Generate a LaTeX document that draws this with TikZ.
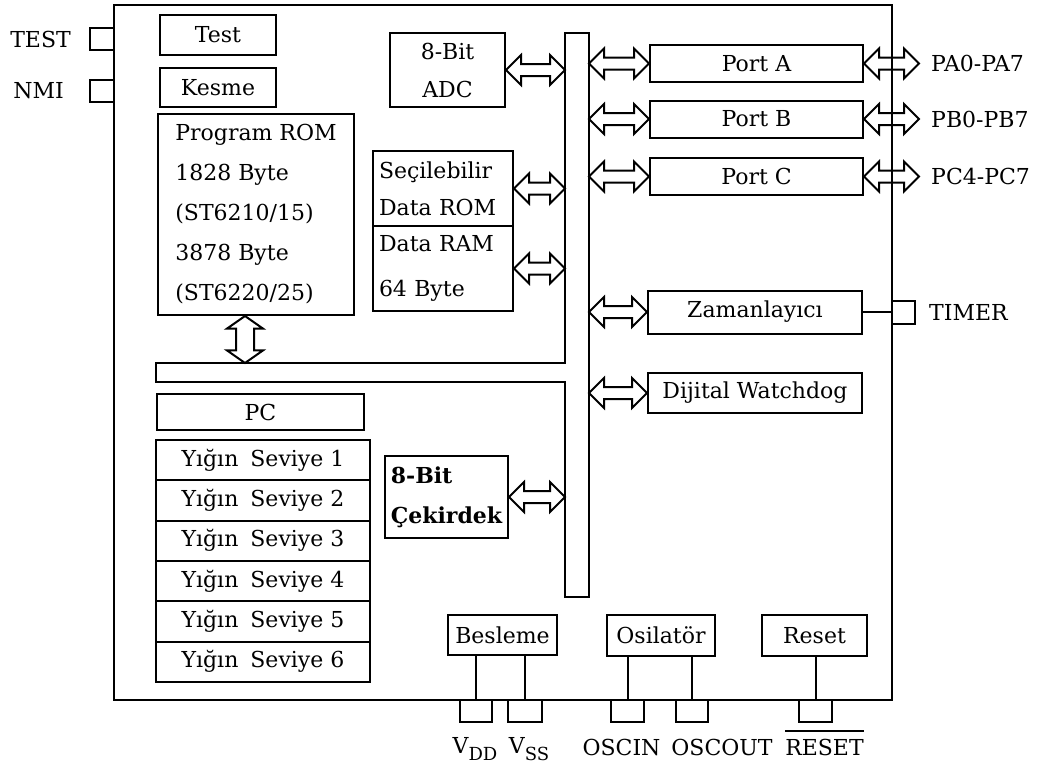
\documentclass[tikz,border=0pt]{standalone}
\usepackage{fontspec}
\setmainfont{DejaVu Serif}
\usetikzlibrary{calc,positioning,shapes.arrows}

\tikzset{
  blok/.style={draw, line width=2pt, inner sep=2pt, font=\fontsize{22}{26}\selectfont},
  pin/.style={draw, line width=2pt, inner sep=0pt, minimum height=22pt},
  lbl/.style={inner sep=0pt, font=\fontsize{22}{26}\selectfont},
  dblarr/.style={double arrow, draw, line width=2pt, inner xsep=0pt, inner ysep=5pt,
    minimum width=0pt, double arrow head extend=9pt},
}
% hollow two-way arrow from #3 to #4, named #2
\newcommand{\dblink}[4][]{%
  \path let \p1=(#3), \p2=(#4) in
    node[dblarr, #1, minimum height={veclen(\x2-\x1,\y2-\y1)}, rotate={atan2(\y2-\y1,\x2-\x1)}]
      (#2) at ($(\p1)!.5!(\p2)$) {};}
\newcommand{\lowtext}[1]{\raisebox{-7pt}{\fontsize{18}{18}\selectfont #1}}

\begin{document}
\begin{tikzpicture}[x=1pt,y=-1pt]
  \useasboundingbox (0,0) rectangle (1044,774);
  \node[draw, line width=2.5pt, inner sep=0pt, minimum width=778pt, minimum height=695pt] (chip) at (503,352.5) {};

  % bus
  \coordinate (busL) at (565,33); \coordinate (busR) at (589,33); \coordinate (busT) at (156,363);
  \draw[line width=2pt] (565,33) -- (589,33) -- (589,597) -- (565,597) -- (565,382)
    -- (156,382) -- (156,363) -- (565,363) -- cycle;

  % left column
  \node[blok, minimum width=116pt, minimum height=40pt] (test) at (218,35) {Test};
  \node[blok, minimum width=116pt, minimum height=39pt] (kesme) at (218,87.5) {Kesme};
  \node[blok, minimum width=196pt, minimum height=201pt, align=left, font=\fontsize{22}{40}\selectfont]
    (prom) at (256,214.5) {Program ROM\\1828 Byte\\(ST6210/15)\\3878 Byte\\(ST6220/25)};
  \node[blok, minimum width=207pt, minimum height=36pt] (pc) at (260.5,412) {PC};
  \foreach \i in {1,...,6}
    \node[blok, minimum width=214pt, minimum height=40.3pt] (yigin\i) at (263,{440+40.3*(\i-0.5)}) {Yığın\hspace{12pt}Seviye \i};

  % middle column
  \node[blok, minimum width=115pt, minimum height=74pt, align=center, font=\fontsize{22}{38}\selectfont]
    (adc) at (447.5,70) {8-Bit\\ADC};
  \node[blok, minimum width=140pt, minimum height=75pt, text width=128pt, align=left, font=\fontsize{22}{37}\selectfont]
    (drom) at (443,188.5) {Seçilebilir\\Data ROM};
  \node[blok, minimum width=140pt, minimum height=85pt, text width=128pt, align=left, font=\fontsize{22}{45}\selectfont]
    (dram) at (443,268.5) {Data RAM\\64 Byte};
  \node[blok, minimum width=123pt, minimum height=82pt, align=left, font=\fontsize{22}{40}\selectfont\bfseries]
    (cekirdek) at (446.5,497) {8-Bit\\Çekirdek};

  % right column
  \foreach \nm/\y/\lb in {porta/63.5/Port A, portb/119/Port B, portc/176.5/Port C}
    \node[blok, minimum width=213pt, minimum height=37pt] (\nm) at (756.5,\y) {\lb};
  \node[blok, minimum width=214pt, minimum height=43pt] (timer) at (755,312) {Zamanlayıcı};
  \node[blok, minimum width=214pt, minimum height=40pt] (wdog) at (755,393) {Dijital Watchdog};

  % bottom row
  \node[blok, minimum width=109pt, minimum height=40pt] (besleme) at (502.5,635) {Besleme};
  \node[blok, minimum width=108pt, minimum height=41pt] (osc) at (661,635.5) {Osilatör};
  \node[blok, minimum width=105pt, minimum height=41pt] (reset) at (814.5,635.5) {Reset};

  % pins
  \node[pin, minimum width=24pt] (tstpin) at (102,39) {};
  \node[pin, minimum width=24pt] (nmipin) at (102,91) {};
  \node[pin, minimum width=23pt, minimum height=23pt] (tmrpin) at (903.5,312) {};
  \foreach \nm/\x/\w in {vdd/476/32, vss/525/34, oscin/627.5/33, oscout/692/32, rst/815.5/33}
    \node[pin, minimum width=\w pt] (\nm) at (\x,711) {};

  % pin labels
  \node[lbl, left=18pt of tstpin] (tstlbl) {TEST};
  \node[lbl, left=25pt of nmipin] (nmilbl) {NMI};
  \node[lbl, right=13pt of tmrpin] (tmrlbl) {TIMER};
  \node[lbl, below=14pt of vdd, xshift=-1pt] (vddlbl) {V\lowtext{DD}};
  \node[lbl, below=14pt of vss, xshift=4pt] (vsslbl) {V\lowtext{SS}};
  \node[lbl, below=16pt of oscin, xshift=-6pt] (oscinlbl) {OSCIN};
  \node[lbl, below=16pt of oscout, xshift=30pt] (oscoutlbl) {OSCOUT};
  \node[lbl, below=16pt of rst, xshift=9pt] (rstlbl) {RESET};
  \draw[line width=1.5pt] ([yshift=8pt]rstlbl.north west) -- ([yshift=8pt]rstlbl.north east);

  % wires
  \foreach \a/\b in {besleme/vdd, besleme/vss, osc/oscin, osc/oscout, reset/rst}
    \draw[line width=2pt] (\a.south -| \b) -- (\b.north);
  \draw[line width=2pt] (timer.east) -- (tmrpin.west);

  % two-way arrows
  \coordinate (romb) at ([xshift=-11pt]prom.south);
  \dblink[inner ysep=8pt, double arrow head extend=9pt, double arrow tip angle=110]{aprom}{romb}{romb |- busT}
  \dblink{aadc}{adc.east}{adc.east -| busL}
  \dblink{adrom}{drom.east}{drom.east -| busL}
  \dblink{adram}{dram.east}{dram.east -| busL}
  \dblink{acek}{cekirdek.east}{cekirdek.east -| busL}
  \dblink{atimer}{timer.west -| busR}{timer.west}
  \dblink{awdog}{wdog.west -| busR}{wdog.west}
  \foreach \nm/\lb in {porta/PA0-PA7, portb/PB0-PB7, portc/PC4-PC7} {
    \coordinate (e\nm) at ($(\nm.east)+(55,0)$);
    \dblink{i\nm}{\nm.west -| busR}{\nm.west}
    \dblink{o\nm}{\nm.east}{e\nm}
    \node[lbl, right=12pt of e\nm] (\nm lbl) {\lb};
  }
\end{tikzpicture}
\end{document}
